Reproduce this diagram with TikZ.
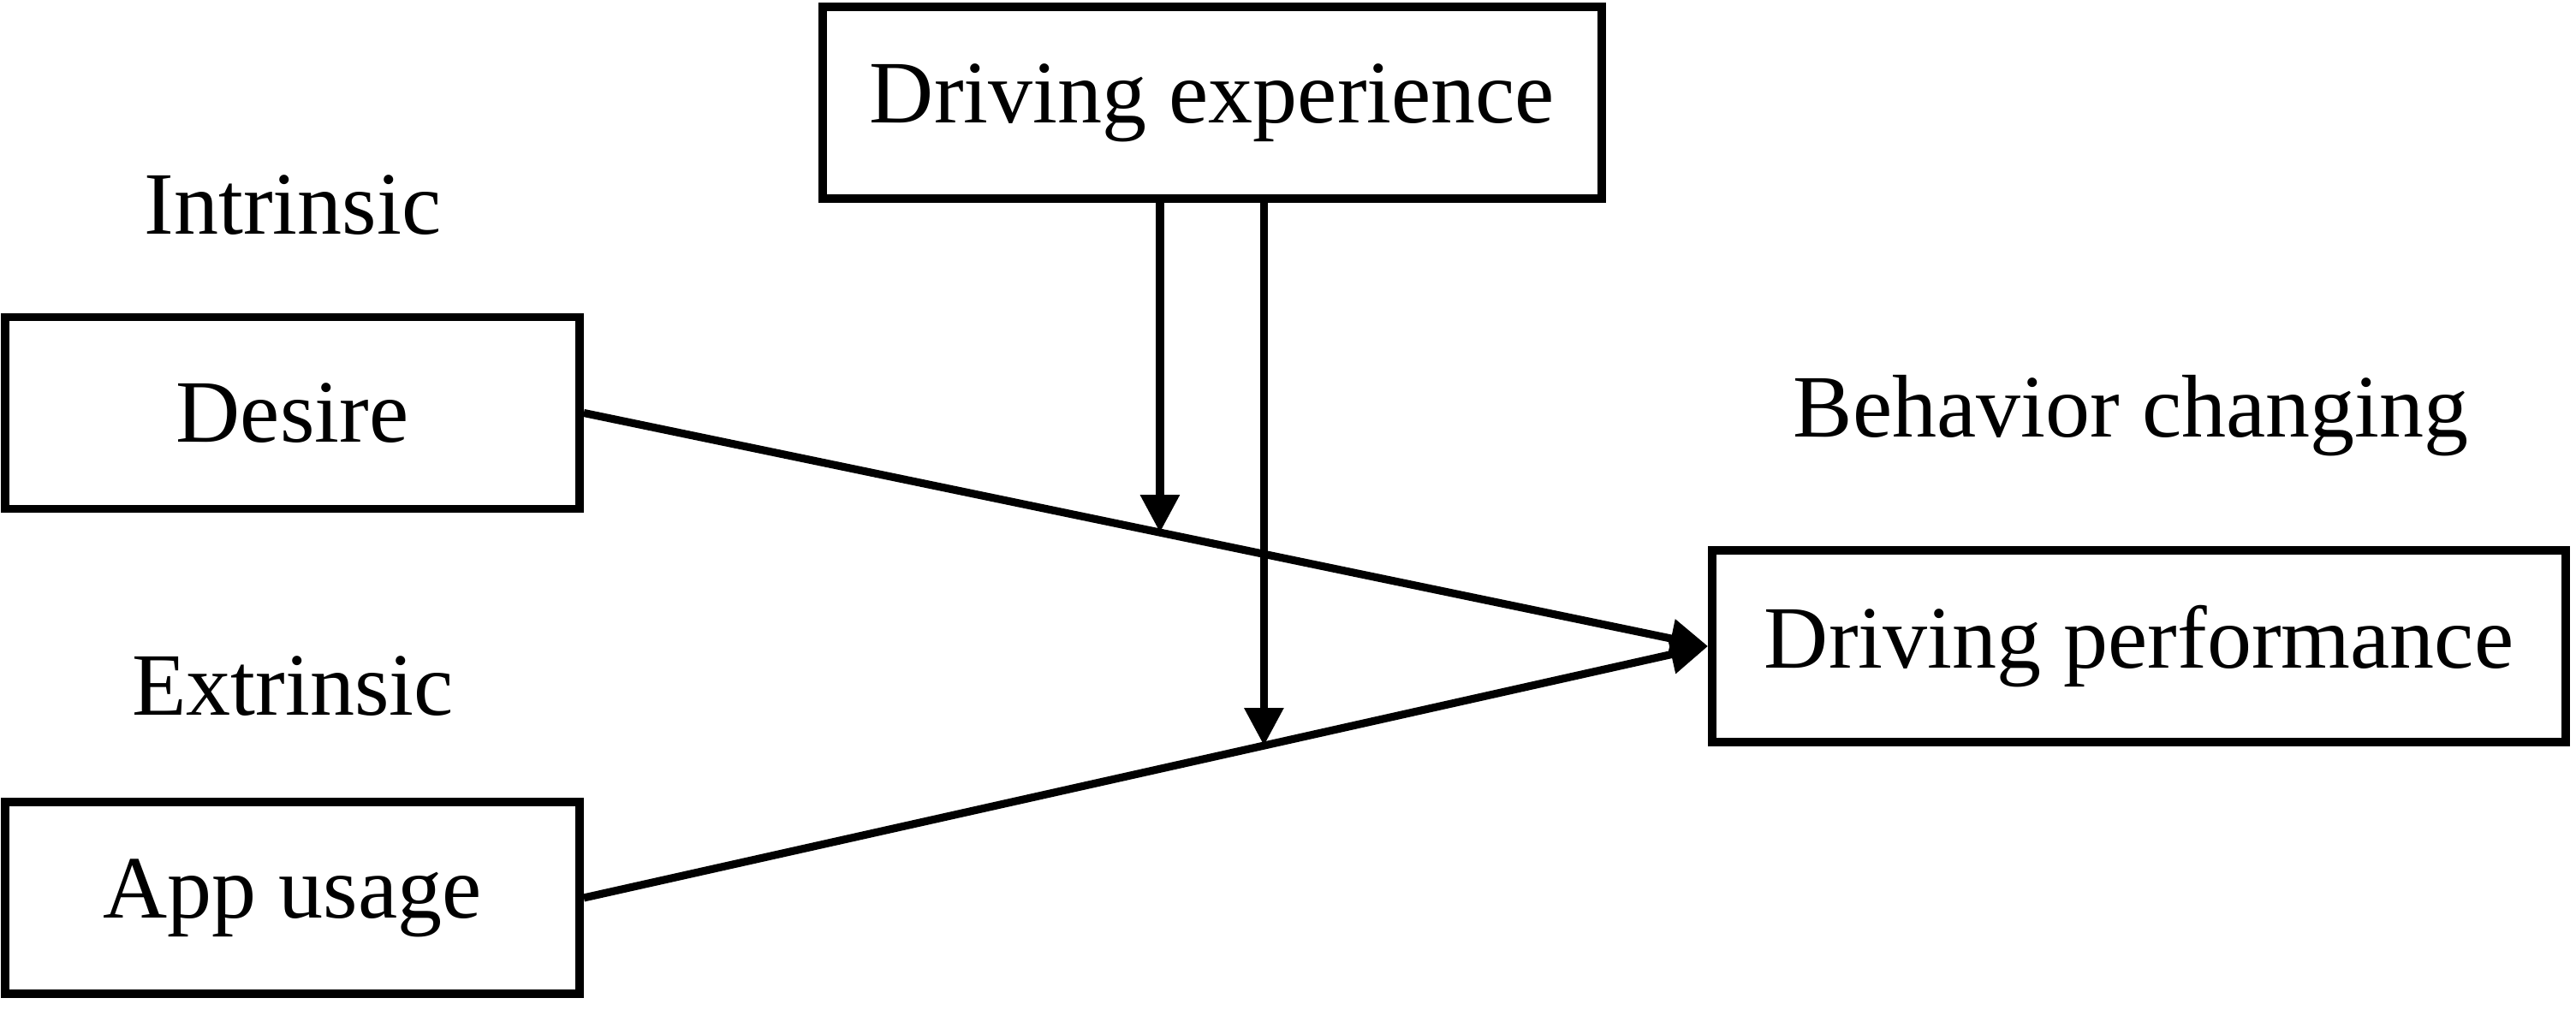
\documentclass[tikz,border=0pt]{standalone}
\usepackage{fontspec}
\setmainfont{Liberation Serif}
\usetikzlibrary{arrows.meta,calc}
\begin{document}
\begin{tikzpicture}
[font=\fontsize{14.8}{17}\selectfont, line width=1.3pt]
\tikzstyle{box}=[rectangle, draw, line width=1.4pt, inner sep=0mm, minimum height=1.12cm]
\tikzstyle{arr}=[-{Triangle[length=2.2mm, width=2.2mm]}]
\useasboundingbox (0,0) rectangle (15.045,5.9);

\node[box, minimum width=4.55cm]	(exp)	at (7.08,5.3)	{Driving experience};
\node[box, minimum width=3.355cm]	(des)	at (1.7075,3.4875)	{Desire};
\node[box, minimum width=3.355cm]	(app)	at (1.7075,0.655)	{App usage};
\node[box, minimum width=4.985cm]	(perf)	at (12.4925,2.125)	{Driving performance};

\node	(intr)	at (1.71,4.7)	{Intrinsic};
\node	(extr)	at (1.71,1.89)	{Extrinsic};
\node	(beh)	at (12.445,3.47)	{Behavior changing};

\draw[arr] (des.east)--(perf.west);
\draw[arr] (app.east)--(perf.west);

\coordinate (m1) at ($(des.east)!0.5125!(perf.west)$);
\coordinate (m2) at ($(app.east)!0.605!(perf.west)$);
\draw[arr] (exp.south -| m1)--(m1);
\draw[arr] (exp.south -| m2)--(m2);

\end{tikzpicture}
\end{document}
